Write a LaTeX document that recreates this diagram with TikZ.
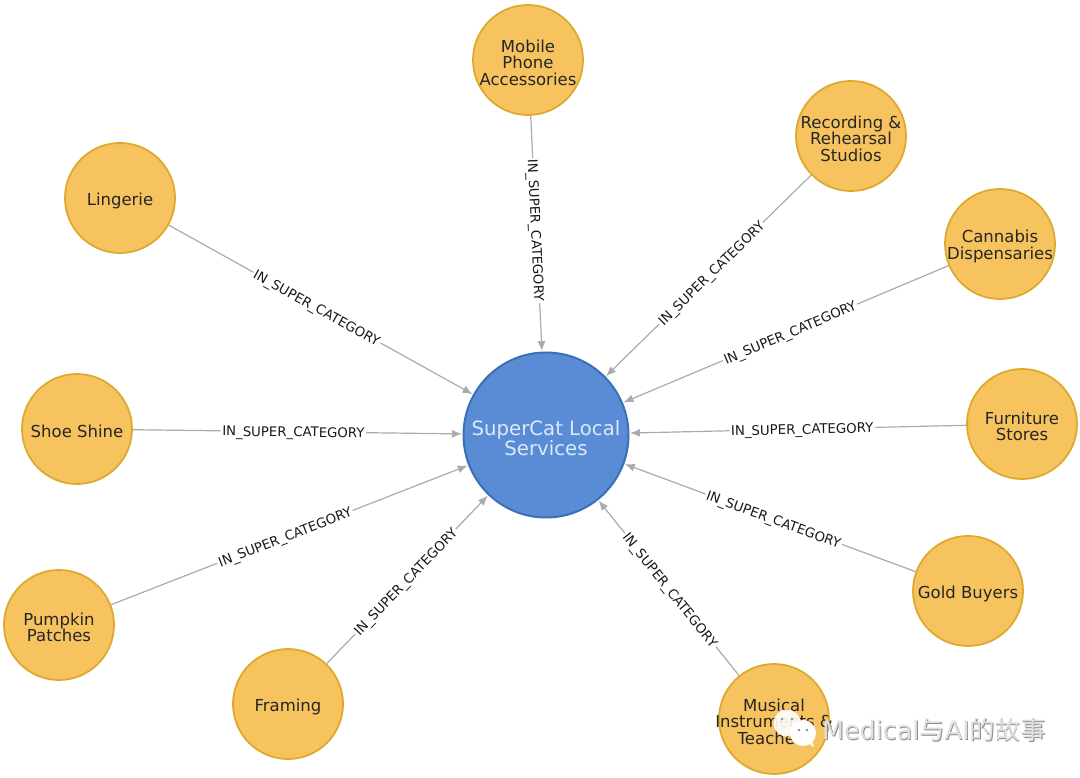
\documentclass[tikz,border=0pt]{standalone}
\usepackage{fontspec}
\setmainfont{DejaVu Sans}
\newfontfamily\cjkfont{Noto Sans CJK SC}
\usetikzlibrary{arrows.meta,positioning,calc}
\definecolor{leaffill}{HTML}{F6C35F}
\definecolor{leafline}{HTML}{DDA92F}
\definecolor{hubfill}{HTML}{5A8CD5}
\definecolor{hubline}{HTML}{3A70B5}
\definecolor{hubtext}{HTML}{DCE9F8}
\definecolor{relline}{HTML}{ABABAF}

\begin{document}
\begin{tikzpicture}[
  x=1pt,y=-1pt,
  leaf/.style={circle,draw=leafline,fill=leaffill,line width=1.8pt,minimum size=110pt,inner sep=0pt},
  leaftext/.style={align=center,inner sep=0pt,yshift=-2.5pt,font=\fontsize{16.5}{16.5}\selectfont,text=black!85},
  hub/.style={circle,draw=hubline,fill=hubfill,line width=2pt,minimum size=165pt,inner sep=0pt},
  hubfont/.style={align=center,inner sep=0pt,yshift=-3.5pt,font=\fontsize{19.7}{20}\selectfont,text=hubtext},
  arr/.style={-{Latex[length=10pt,width=8pt]},draw=relline,line width=1.2pt,shorten >=0.5pt},
  rel/.style={fill=white,inner sep=1.5pt,sloped,pos=0.487,text height=11pt,text depth=1pt,
    font=\fontsize{13.3}{14}\selectfont,text=black!90},
  wmark/.style={text=black!12,inner sep=0pt,font=\fontsize{25.4}{27}\selectfont},
]
  \useasboundingbox (0,0) rectangle (1080,778);

  \node[hub,label={[hubfont]center:{SuperCat Local\\Services}}] (hub) at (546,435) {};

  \node[leaf,label={[leaftext]center:{Mobile\\Phone\\Accessories}}] (mobile) at (528,60) {};
  \node[leaf,label={[leaftext]center:{Recording \&\\Rehearsal\\Studios}}] (recording) at (851,136) {};
  \node[leaf,label={[leaftext]center:{Cannabis\\Dispensaries}}] (cannabis) at (1000,244) {};
  \node[leaf,label={[leaftext]center:{Furniture\\Stores}}] (furniture) at (1022,424) {};
  \node[leaf,label={[leaftext]center:{Gold Buyers}}] (gold) at (968,591) {};
  \node[leaf,label={[leaftext]center:{Musical\\Instruments \&\\Teachers}}] (musical) at (774,719) {};
  \node[leaf,label={[leaftext]center:{Framing}}] (framing) at (288,704) {};
  \node[leaf,label={[leaftext]center:{Pumpkin\\Patches}}] (pumpkin) at (59,625) {};
  \node[leaf,label={[leaftext]center:{Shoe Shine}}] (shoe) at (77,429) {};
  \node[leaf,label={[leaftext]center:{Lingerie}}] (lingerie) at (120,198) {};

  \foreach \src in {mobile,recording,cannabis,furniture,gold,musical,framing,pumpkin,shoe,lingerie}
    \draw[arr] (\src) -- node[rel]{IN\_SUPER\_CATEGORY} (hub);

  % chat bubbles and caption across the lower right
  \fill[white,opacity=.9] (787,723) circle (13.5);
  \fill[white] (803,733) circle (13);
  \fill[white] (806,742) -- (814,747) -- (811,738) -- cycle;
  \foreach \x/\y in {782/719,792/719,799/730,807/730}
    \fill[black!45] (\x,\y) circle (1.4);
  \node[wmark,text=black!45,anchor=west] (shadow) at (822.8,730.8) {Medical{\cjkfont 与}AI{\cjkfont 的故事}};
  \node[wmark,anchor=west] (caption) at (822,730) {Medical{\cjkfont 与}AI{\cjkfont 的故事}};
\end{tikzpicture}
\end{document}
